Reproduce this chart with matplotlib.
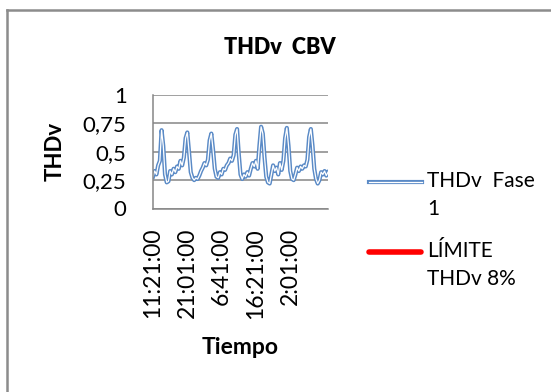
import matplotlib
matplotlib.use("Agg")
import matplotlib.pyplot as plt
import matplotlib.patheffects as pe
from matplotlib.lines import Line2D

plt.rcParams['font.family'] = ['Lato', 'DejaVu Sans']

# THDv fase 1, sampled readings
thdv_fase1 = [0.28, 0.33, 0.30, 0.38, 0.42, 0.69, 0.55, 0.30, 0.23, 0.24,
              0.33, 0.30, 0.35, 0.32, 0.37, 0.35, 0.42, 0.38, 0.45, 0.62,
              0.67, 0.50, 0.32, 0.27, 0.25, 0.27, 0.26, 0.29, 0.33, 0.36,
              0.40, 0.38, 0.43, 0.60, 0.66, 0.52, 0.35, 0.28, 0.27, 0.32,
              0.30, 0.35, 0.34, 0.38, 0.40, 0.44, 0.42, 0.47, 0.65, 0.70,
              0.48, 0.30, 0.26, 0.30, 0.28, 0.32, 0.29, 0.35, 0.40, 0.37,
              0.42, 0.35, 0.55, 0.72, 0.66, 0.45, 0.28, 0.23, 0.22, 0.30,
              0.38, 0.33, 0.36, 0.30, 0.40, 0.34, 0.42, 0.62, 0.71, 0.55,
              0.33, 0.26, 0.25, 0.30, 0.36, 0.33, 0.37, 0.35, 0.38, 0.37,
              0.43, 0.63, 0.70, 0.55, 0.35, 0.26, 0.22, 0.25, 0.32, 0.30,
              0.33, 0.29, 0.32]
limite_thdv = 8  # percent, above the 0-1 range shown

x_tick_idx = [0, 20, 40, 60, 80]
x_tick_labels = ["11:21:00", "21:01:00", "6:41:00", "16:21:00", "2:01:00"]
y_ticks = [0, 0.25, 0.5, 0.75, 1]
y_tick_labels = ["0", "0,25", "0,5", "0,75", "1"]

W, H = 551, 392
fig = plt.figure(figsize=(W / 100, H / 100), dpi=100)
ax = fig.add_axes([153 / W, 1 - 208.5 / H, 175 / W, 113.5 / H])

blue_fx = [pe.Stroke(linewidth=3.0, foreground="#5a8ac6"), pe.Normal()]

n = len(thdv_fase1)
xs = list(range(n))
ax.plot(xs, thdv_fase1, color="white", lw=0.9, path_effects=blue_fx)
ax.plot([0, n - 1], [limite_thdv, limite_thdv], color="#ff0000", lw=4,
        solid_capstyle="round")

ax.set_xlim(0, n - 1)
ax.set_ylim(0, 1)
ax.set_yticks(y_ticks)
ax.set_yticklabels(y_tick_labels)
ax.set_xticks(x_tick_idx)
ax.set_xticklabels(x_tick_labels, rotation=90, va="top", ha="center")
ax.tick_params(axis="y", length=0, pad=19, labelsize=16)
ax.tick_params(axis="x", length=0, pad=14, labelsize=16.5)
ax.yaxis.grid(True, color="#868686", lw=1.1)
for s in ["top", "right"]:
    ax.spines[s].set_visible(False)
for s in ["left", "bottom"]:
    ax.spines[s].set_color("#868686")
    ax.spines[s].set_linewidth(1.1)
ax.set_axisbelow(True)

ax.set_ylabel("THDv", fontsize=16, fontweight="bold", labelpad=12)
ax.set_xlabel("Tiempo", fontsize=16.5, fontweight="bold", labelpad=13)
fig.text(280 / W, 1 - 47 / H, "THDv  CBV", fontsize=15.5, fontweight="heavy",
         ha="center", va="center")

# legend entries, handle level with the first text line
legend_rows = [
    ("THDv  Fase\n1", dict(color="white", lw=0.9, path_effects=blue_fx), 369, 422, 182),
    ("LÍMITE\nTHDv 8%", dict(color="#ff0000", lw=4, solid_capstyle="round"), 369, 421, 252),
]
for label, style, x0, x1, y in legend_rows:
    fig.add_artist(Line2D([x0 / W, x1 / W], [1 - y / H, 1 - y / H], **style))
    fig.text(427 / W, 1 - (y - 11) / H, label, fontsize=15, ha="left", va="top",
             linespacing=1.5)

# chart frame (top and left edges)
fig.add_artist(Line2D([6.5 / W, 6.5 / W], [0, 1 - 9.5 / H], color="#8c8c8c", lw=1.8))
fig.add_artist(Line2D([6.5 / W, 1], [1 - 9.5 / H, 1 - 9.5 / H], color="#8c8c8c", lw=1.8))

fig.savefig("out.png", dpi=100)
